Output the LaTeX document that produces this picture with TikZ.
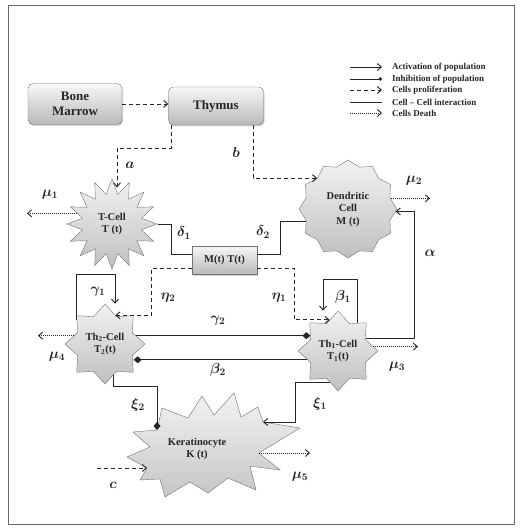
\documentclass[tikz,border=0pt]{standalone}
\usepackage{fontspec}
\setmainfont{Liberation Serif}
\usepackage{amsmath}
\usetikzlibrary{shapes.geometric,arrows.meta,shadows,calc}
\begin{document}
\begin{tikzpicture}[x=1pt,y=-1pt,
  every node/.style={text=black!85},
  ln/.style={draw=black!85, line width=0.95pt},
  act/.style={ln, -{Straight Barb[length=4pt,width=7pt]}},
  prolif/.style={ln, dash pattern=on 4pt off 3pt, -{Straight Barb[length=4pt,width=7pt]}},
  death/.style={ln, line width=0.9pt, dash pattern=on 1pt off 1pt, -{Straight Barb[length=4pt,width=7pt]}},
  inter/.style={ln},
  inh/.style={ln, -{Diamond[length=8pt,width=7pt]}},
  boxnode/.style={draw=black!55, rounded corners=5pt, top color=gray!6, bottom color=gray!55,
     drop shadow={opacity=0.35, shadow xshift=1pt, shadow yshift=-1.5pt},
     align=center, inner sep=1pt, font=\fontsize{13}{15}\selectfont\bfseries},
  cell/.style={shape=star, draw=black!55, top color=gray!10, bottom color=gray!50,
     align=center, inner sep=0pt, font=\fontsize{10.5}{12.5}\selectfont\bfseries},
  celltext/.style={align=center, inner sep=0pt, font=\fontsize{10.5}{12.5}\selectfont\bfseries},
  kershape/.style={draw=black!55, top color=gray!10, bottom color=gray!45},
  lab/.style={font=\boldmath\fontsize{14}{16}\selectfont, inner sep=0pt},
  legtext/.style={anchor=west, inner sep=0pt, font=\fontsize{9}{10}\selectfont\bfseries}
]
\useasboundingbox (0,0) rectangle (532,529);
\draw[black!60, line width=1pt] (8,6) rectangle (514,524);

% legend
\node[legtext] (lg1) at (392,67) {Activation of population};
\node[legtext] (lg2) at (392,79) {Inhibition of population};
\node[legtext] (lg3) at (392,90) {Cells proliferation};
\node[legtext] (lg4) at (392,102) {Cell -- Cell interaction};
\node[legtext] (lg5) at (392,113) {Cells Death};
\draw[act] ([xshift=-42pt]lg1.west) -- ([xshift=-10pt]lg1.west);
\draw[ln, -{Circle[length=3.5pt]}] ([xshift=-42pt]lg2.west) -- ([xshift=-10pt]lg2.west);
\draw[prolif] ([xshift=-42pt]lg3.west) -- ([xshift=-10pt]lg3.west);
\draw[inter] ([xshift=-42pt]lg4.west) -- ([xshift=-10pt]lg4.west);
\draw[death] ([xshift=-42pt]lg5.west) -- ([xshift=-10pt]lg5.west);

% boxes
\node[boxnode, minimum width=94pt, minimum height=41pt] (bm) at (75,104) {Bone\\Marrow};
\node[boxnode, minimum width=95pt, minimum height=38pt] (thy) at (216,106) {Thymus};
\node[boxnode, rounded corners=0pt, minimum width=65pt, minimum height=28pt,
      font=\fontsize{10.5}{12.5}\selectfont\bfseries] (mt) at (224.5,260) {M(t) T(t)};

% cells
\node[cell, star points=16, star point ratio=1.5, minimum size=90pt] (tc) at (112,224) {T-Cell\\T (t)};
\node[cell, star points=12, star point ratio=1.13, minimum size=98pt] (dc) at (348,209) {Dendritic\\Cell\\M (t)};
\node[cell, star points=8, star point ratio=1.35, minimum size=80pt] (th2) at (105,344) {Th\textsubscript{2}-Cell\\T\textsubscript{2}(t)};
\node[cell, star points=8, star point ratio=1.35, minimum size=80pt] (th1) at (338,351) {Th\textsubscript{1}-Cell\\T\textsubscript{1}(t)};

% keratinocyte
\coordinate (kxi2) at (157,430);
\coordinate (kxi1) at (263,422);
\coordinate (kmu5) at (259,453);
\coordinate (kc) at (147,468);
\path[kershape] (127,457) -- (150,447) -- (133,432) -- (kxi2) -- (162,408) -- (188,418)
  -- (202,396) -- (214,415) -- (234,393) -- (241,417) -- (258,407) -- (kxi1)
  -- (300,428) -- (kmu5) -- (280,470) -- (250,466) -- (256,490) -- (228,478)
  -- (208,493) -- (190,482) -- (165,497) -- (160,479) -- (140,480) -- (kc) -- cycle;
\node[celltext] (ker) at (197,449) {Keratinocyte\\K (t)};

% free ends
\coordinate (m1end) at (27,0);
\coordinate (m2end) at (430,0);
\coordinate (m3end) at (418,0);
\coordinate (m4end) at (38,0);
\coordinate (m5end) at (310,0);
\coordinate (cstart) at (97,468);
\coordinate (acol) at (414,0);

% connectors
\draw[prolif] (bm.east) -- (bm.east -| thy.west);
\draw[prolif] ([xshift=-45pt]thy.south) -- ++(0,23) -| ([xshift=5pt,yshift=-9pt]tc.north);
\draw[prolif] ([xshift=37pt]thy.south) |- (dc.135);
\draw[inter] (tc.east) -- ++(14,0) |- ([yshift=6pt]mt.west);
\draw[inter] (dc.196) -- ([xshift=23pt]mt.east |- dc.196) -- ([xshift=23pt,yshift=6pt]mt.east) -- ([yshift=6pt]mt.east);
\draw[prolif] ([yshift=-8pt]mt.west) -- ++(-40,0) |- (th2.70);
\draw[prolif] ([yshift=-8pt]mt.east) -- ++(37,0) |- (th1.105);
\draw[act] (th2.140) |- ([xshift=10pt,yshift=29pt]th2.north) -- ([xshift=10pt]th2.north);
\draw[act] (th1.55) |- ([xshift=-15pt,yshift=31pt]th1.north) -- ([xshift=-15pt]th1.north);
\draw[inh] (th2.15) -- (th2.15 -| th1.155);
\draw[inh] (th1.196) -- (th1.196 -| th2.340);
\draw[act] (th1.25) -| (acol |- dc.357) -- (dc.357);
\draw[death] (tc.163) -- (tc.163 -| m1end);
\draw[death] (dc.14) -- (dc.14 -| m2end);
\draw[death] (th1.7) -- (th1.7 -| m3end);
\draw[death] (th2.165) -- (th2.165 -| m4end);
\draw[death] (kmu5) -- (kmu5 -| m5end);
\draw[inh] (th2.285) -- ++(0,11) -| (kxi2);
\draw[act] (th1.255) -- ++(-34,0) |- (kxi1);
\draw[prolif] (cstart) -- (kc);

% labels
\node[lab] (la) at (130,165) {$a$};
\node[lab] (lb) at (236,153) {$b$};
\node[lab] (lmu1) at (50,195) {$\mu_1$};
\node[lab] (lmu2) at (414,181) {$\mu_2$};
\node[lab] (ld1) at (184,233) {$\delta_1$};
\node[lab] (ld2) at (263,232) {$\delta_2$};
\node[lab] (lal) at (430,253) {$\alpha$};
\node[lab] (lg1l) at (98,292) {$\gamma_1$};
\node[lab] (le2) at (168,298) {$\eta_2$};
\node[lab] (le1) at (279,298) {$\eta_1$};
\node[lab] (lb1) at (343,297) {$\beta_1$};
\node[lab] (lg2l) at (218,321) {$\gamma_2$};
\node[lab] (lmu4) at (57,357) {$\mu_4$};
\node[lab] (lmu3) at (397,367) {$\mu_3$};
\node[lab] (lb2) at (218,370) {$\beta_2$};
\node[lab] (lx2) at (138,405) {$\xi_2$};
\node[lab] (lx1) at (320,404) {$\xi_1$};
\node[lab] (lc) at (113,485) {$c$};
\node[lab] (lmu5) at (300,477) {$\mu_5$};
\end{tikzpicture}
\end{document}
